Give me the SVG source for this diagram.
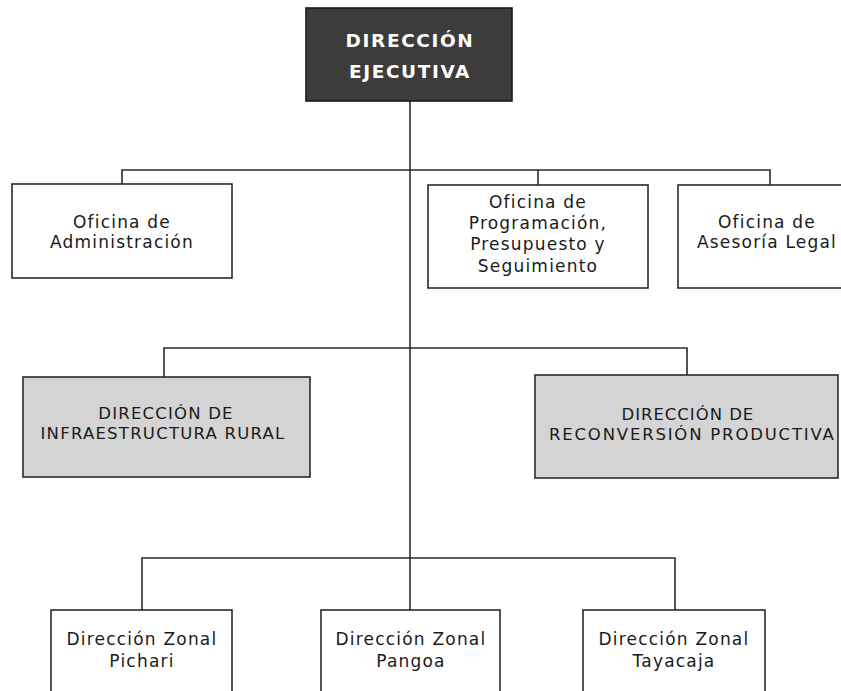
<svg xmlns="http://www.w3.org/2000/svg" width="841" height="691" viewBox="0 0 841 691">
  <style>
    .box { fill: #ffffff; stroke: #2a2a2a; stroke-width: 1.6; }
    .dir { fill: #d4d4d4; stroke: #2a2a2a; stroke-width: 1.6; }
    .top { fill: #3c3c3c; stroke: #1a1a1a; stroke-width: 1.6; }
    .lbl { font-family: "DejaVu Sans", "Noto Sans", sans-serif; font-size: 17px; fill: #1a1a1a; text-anchor: middle; letter-spacing: 1.2px; }
    .cap { font-family: "DejaVu Sans", "Noto Sans", sans-serif; font-size: 16.5px; fill: #1a1a1a; text-anchor: middle; letter-spacing: 1.2px; }
    .head { font-family: "DejaVu Sans", "Noto Sans", sans-serif; font-size: 18.5px; font-weight: bold; fill: #ffffff; text-anchor: middle; letter-spacing: 1.6px; }
    .wire { fill: none; stroke: #2a2a2a; stroke-width: 1.6; }
  </style>
  <rect width="841" height="691" fill="#ffffff"/>

  <!-- connectors -->
  <g id="connectors">
    <line class="wire" x1="410" y1="101" x2="410" y2="691"/>
    <path class="wire" d="M122 184 V170 H770 V185"/>
    <line class="wire" x1="538" y1="170" x2="538" y2="185"/>
    <path class="wire" d="M164 377 V348 H687 V375"/>
    <path class="wire" d="M142 610 V558 H675 V610"/>
  </g>

  <!-- top: executive direction -->
  <g id="direccion-ejecutiva">
    <rect class="top" x="306" y="8" width="206" height="93"/>
    <text class="head" x="410" y="47">DIRECCIÓN</text>
    <text class="head" x="410" y="78">EJECUTIVA</text>
  </g>

  <!-- offices -->
  <g id="oficina-administracion">
    <rect class="box" x="12" y="184" width="220" height="94"/>
    <text class="lbl" x="122" y="228">Oficina de</text>
    <text class="lbl" x="122" y="248">Administración</text>
  </g>
  <g id="oficina-programacion">
    <rect class="box" x="428" y="185" width="220" height="103"/>
    <text class="lbl" x="538" y="208">Oficina de</text>
    <text class="lbl" x="538" y="229">Programación,</text>
    <text class="lbl" x="538" y="250">Presupuesto y</text>
    <text class="lbl" x="538" y="272">Seguimiento</text>
  </g>
  <g id="oficina-asesoria">
    <rect class="box" x="678" y="185" width="178" height="103"/>
    <text class="lbl" x="767" y="228">Oficina de</text>
    <text class="lbl" x="767" y="248">Asesoría Legal</text>
  </g>

  <!-- line directions -->
  <g id="direccion-infraestructura">
    <rect class="dir" x="23" y="377" width="287" height="100"/>
    <text class="cap" x="166" y="419">DIRECCIÓN DE</text>
    <text class="cap" x="163" y="439" textLength="245" lengthAdjust="spacing">INFRAESTRUCTURA RURAL</text>
  </g>
  <g id="direccion-reconversion">
    <rect class="dir" x="535" y="375" width="303" height="103"/>
    <text class="cap" x="688" y="420" textLength="133" lengthAdjust="spacing">DIRECCIÓN DE</text>
    <text class="cap" x="692" y="440" textLength="286" lengthAdjust="spacing">RECONVERSIÓN PRODUCTIVA</text>
  </g>

  <!-- zonal directions -->
  <g id="zonal-pichari">
    <rect class="box" x="51" y="610" width="181" height="90"/>
    <text class="lbl" x="142" y="645">Dirección Zonal</text>
    <text class="lbl" x="142" y="667">Pichari</text>
  </g>
  <g id="zonal-pangoa">
    <rect class="box" x="321" y="610" width="179" height="90"/>
    <text class="lbl" x="411" y="645">Dirección Zonal</text>
    <text class="lbl" x="411" y="667">Pangoa</text>
  </g>
  <g id="zonal-tayacaja">
    <rect class="box" x="583" y="610" width="182" height="90"/>
    <text class="lbl" x="674" y="645">Dirección Zonal</text>
    <text class="lbl" x="674" y="667">Tayacaja</text>
  </g>
</svg>
